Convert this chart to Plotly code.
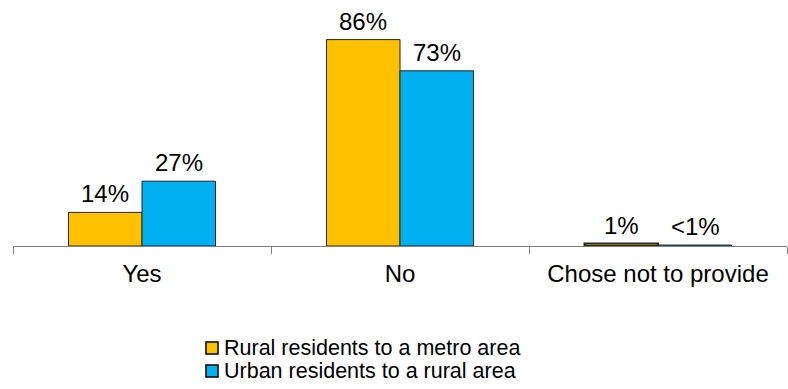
import plotly.graph_objects as go

categories = ["Yes", "No", "Chose not to provide"]
series_names = ["Rural residents to a metro area", "Urban residents to a rural area"]
rural_to_metro = [14, 86, 1]
urban_to_rural = [27, 73, 0.4]
rural_labels = ["14%", "86%", "1%"]
urban_labels = ["27%", "73%", "<1%"]

FONT = "Liberation Sans, Arial, sans-serif"
COLORS = ["#FFC000", "#00B0F0"]
EDGE = "#262626"
# thin slivers get a heavier outline so they read as a solid dark bar
EDGE_WIDTHS = [[1, 1, 2], [1, 1, 1]]

# plot area in pixels
PLOT_L, PLOT_W, PLOT_T, PLOT_H = 13, 774, 6, 240


def px_x(x):
    return (x - PLOT_L) / PLOT_W


def px_y(y):
    return (PLOT_T + PLOT_H - y) / PLOT_H


fig = go.Figure()
for name, vals, color, lw in zip(series_names, [rural_to_metro, urban_to_rural], COLORS, EDGE_WIDTHS):
    fig.add_trace(go.Bar(
        x=categories, y=vals, name=name,
        marker=dict(color=color, line=dict(color=EDGE, width=lw)),
    ))

# value labels above each bar, offset sideways onto the grouped bar
annotations = []
for labels, vals, dx in [(rural_labels, rural_to_metro, -37), (urban_labels, urban_to_rural, 37)]:
    for cat, v, lab in zip(categories, vals, labels):
        annotations.append(dict(
            x=cat, y=v, text=lab, showarrow=False, xref="x", yref="y",
            xanchor="center", yanchor="bottom", xshift=dx, yshift=3,
            font=dict(size=24, color="#000000", family=FONT),
        ))

# legend: swatch + series name, stacked below the axis
legend_rows = [348, 371]
shapes = []
for name, color, ypx in zip(series_names, COLORS, legend_rows):
    shapes.append(dict(
        type="rect", xref="paper", yref="paper",
        x0=px_x(206), x1=px_x(218), y0=px_y(ypx + 6), y1=px_y(ypx - 6),
        fillcolor=color, line=dict(color="#000000", width=1.5),
    ))
    annotations.append(dict(
        x=px_x(222), y=px_y(ypx), xref="paper", yref="paper", text=name,
        showarrow=False, xanchor="left", yanchor="middle",
        font=dict(size=21.5, color="#000000", family=FONT),
    ))

fig.update_layout(
    width=788, height=389,
    margin=dict(l=PLOT_L, r=788 - PLOT_L - PLOT_W, t=PLOT_T,
                b=389 - PLOT_T - PLOT_H, autoexpand=False),
    barmode="group", bargap=0.43, bargroupgap=0,
    plot_bgcolor="white", paper_bgcolor="white",
    font=dict(family=FONT, size=24, color="#000000"),
    showlegend=False,
    annotations=annotations,
    shapes=shapes,
)
fig.update_xaxes(
    showline=True, linecolor="#7f7f7f", linewidth=1,
    ticks="outside", tickson="boundaries", ticklen=7, tickcolor="#7f7f7f",
    tickfont=dict(size=24), ticklabelstandoff=6, showgrid=False,
)
fig.update_yaxes(range=[0, 100], visible=False, showgrid=False)

fig.write_html("out.html")
